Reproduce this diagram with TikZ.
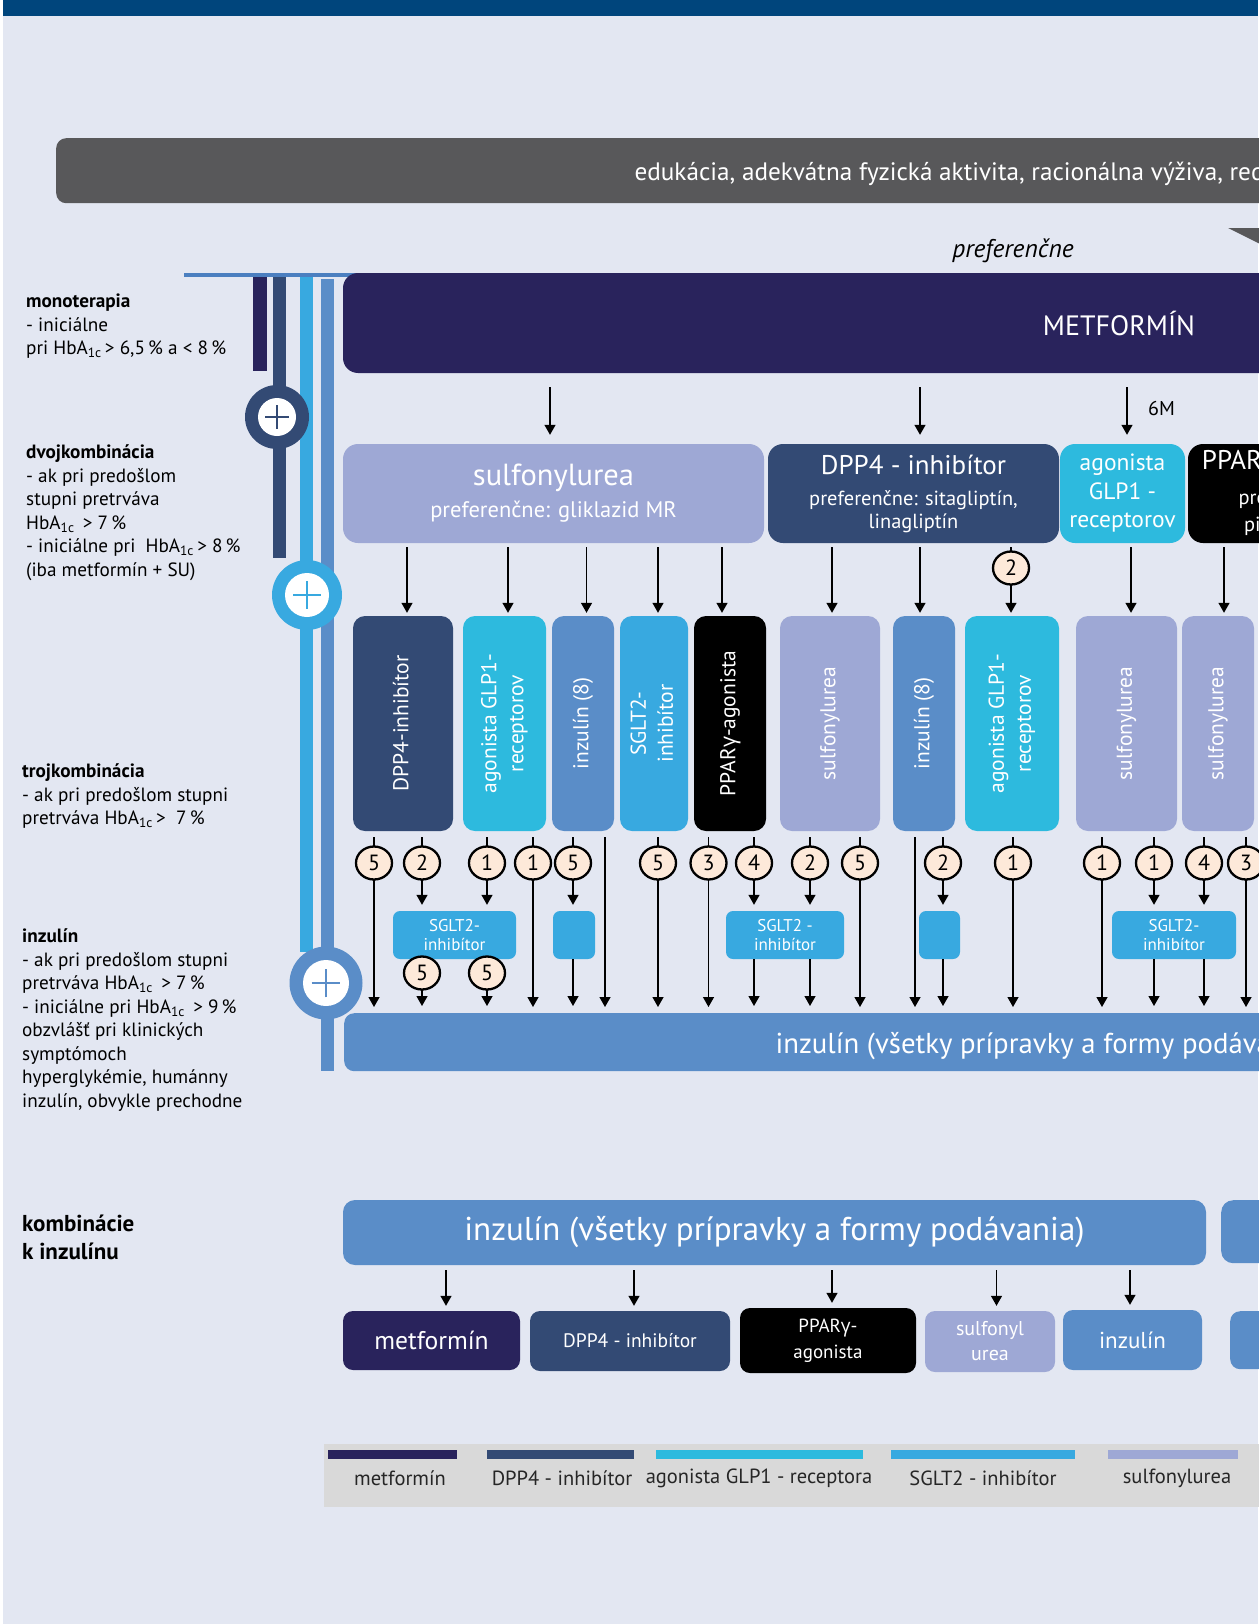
\documentclass[tikz,border=0pt]{standalone}
\usepackage{fontspec}
\setmainfont{PT Sans}
\newfontfamily\grk{Open Sans}
\usetikzlibrary{arrows.meta,shapes.geometric,positioning,calc}
\definecolor{bg}{HTML}{E3E7F2}
\definecolor{topbar}{HTML}{00457C}
\definecolor{edu}{HTML}{58585A}
\definecolor{metf}{HTML}{29235C}
\definecolor{dpp}{HTML}{334A74}
\definecolor{glp}{HTML}{2DBADE}
\definecolor{sglt}{HTML}{38A9E0}
\definecolor{ins}{HTML}{5A8DC8}
\definecolor{hline}{HTML}{4B7FC0}
\definecolor{su}{HTML}{9EA8D5}
\definecolor{peach}{HTML}{FDE9D9}
\definecolor{leg}{HTML}{D9D9D9}
\begin{document}
\begin{tikzpicture}[x=1pt,y=-1pt,
  box/.style={rounded corners=12pt, inner sep=0pt, text=white, align=center},
  arr/.style={-{Triangle[length=10pt,width=11pt]}, line width=1.3pt},
  num/.style={ellipse, draw, line width=2.3pt, fill=peach, minimum width=36pt, minimum height=33pt, inner sep=0pt, font=\fontsize{22}{22}\selectfont},
  lbl/.style={anchor=north west, align=left, inner sep=0pt, font=\fontsize{19.2}{23.5}\selectfont},
  vtext/.style={font=\fontsize{21.5}{27}\selectfont}]
  \useasboundingbox (0,0) rectangle (1258,1624);
  \fill[white] (0,0) rectangle (1258,1624);
  \fill[bg] (3,0) rectangle (1258,1624);
  \fill[topbar] (3,0) rectangle (1258,16);
  \node[box, fill=edu, rounded corners=10pt, minimum width=1300pt, minimum height=65pt, anchor=north west] (edu) at (56,138) {};
  \node[anchor=west, text=white, font=\fontsize{25.2}{25.2}\selectfont] (edut) at (631,174) {edukácia, adekvátna fyzická aktivita, racionálna výživa, redukcia hmotnosti};
  \fill[edu] (1228,228) -- (1300,228) -- (1300,264) -- cycle;
  \node[font=\itshape\fontsize{25.5}{25.5}\selectfont] (pref) at (1013,251) {preferenčne};

  \fill[metf] (253,277) rectangle (267,371);
  \fill[dpp] (273,277) rectangle (286,558);
  \fill[sglt] (300,277) rectangle (313,952);
  \fill[ins] (321,279) rectangle (334,1071);
  \draw[line width=4pt, hline] (184,275) -- (531,275);
  \foreach \n/\x/\y/\c/\r/\s in {c1/277/417/dpp/32/19, c2/307/595/sglt/35/22, c3/326/983/ins/36.5/23}{
    \node[circle, fill=\c, minimum size=\r*2pt, inner sep=0pt] (\n) at (\x,\y) {};
    \node[circle, fill=white, minimum size=\s*2pt, inner sep=0pt] (w\n) at (\n) {};
    \draw[\c, line width=2.5pt] ([xshift=-\s*0.62pt]\n.center) -- ([xshift=\s*0.62pt]\n.center)
      ([yshift=-\s*0.62pt]\n.center) -- ([yshift=\s*0.62pt]\n.center);
  }

  \node[box, fill=metf, rounded corners=15pt, minimum width=1552pt, minimum height=100pt, font=\fontsize{28}{28}\selectfont] (M) at (1119,323) {METFORMÍN};

  \node[box, fill=su, rounded corners=15pt, minimum width=421pt, minimum height=99pt, font=\fontsize{22.5}{32}\selectfont] (S) at (553.5,493.5) {{\fontsize{30.5}{30.5}\selectfont sulfonylurea}\\preferenčne: gliklazid MR};
  \node[box, fill=dpp, rounded corners=15pt, minimum width=291pt, minimum height=99pt, font=\fontsize{20.4}{23}\selectfont] (D) at (913.5,493.5) {{\fontsize{27}{27}\selectfont DPP4 - inhibítor}\\[8pt]preferenčne: sitagliptín,\\linagliptín};
  \node[box, fill=glp, rounded corners=15pt, minimum width=125pt, minimum height=99pt, font=\fontsize{23.5}{28.5}\selectfont] (G) at (1122.5,493.5) {agonista\\GLP1 -\\receptorov};
  \node[box, fill=black, rounded corners=15pt, minimum width=210pt, minimum height=99pt, font=\fontsize{20.4}{27}\selectfont] (P) at (1293,493.5) {{\fontsize{27}{27}\selectfont PPAR{\grk γ}-agonista}\\[8pt]preferenčne:\\pioglitazón};
  \foreach \tg/\x [count=\i] in {S/550, D/920, G/1127}{
    \coordinate (m\i) at (\x,0);
    \draw[arr, shorten <=14pt, shorten >=9pt] (M.south -| m\i) -- (\tg.north -| m\i);
  }
  \node[font=\fontsize{20}{20}\selectfont] (sixm) at (1161.5,408) {6M};

  \foreach \n/\x/\w/\c/\tx in {t1/403/100/dpp/{DPP4-inhibítor}, t2/504.5/83/glp/{agonista GLP1-\\receptorov},
    t3/583/62/ins/{inzulín (8)}, t4/654/68/sglt/{SGLT2-\\inhibítor}, t5/730/72/black/{PPAR{\grk γ}-agonista},
    t6/830/100/su/{sulfonylurea}, t7/924/62/ins/{inzulín (8)}, t8/1012/94/glp/{agonista GLP1-\\receptorov},
    t9/1126.5/101/su/{sulfonylurea}, t10/1218/72/su/{sulfonylurea}}{
    \node[box, vtext, fill=\c, minimum width=\w pt, minimum height=215pt] (\n) at (\x,723.5)
      {\rotatebox{90}{\begin{tabular}{@{}c@{}}\tx\end{tabular}}};
  }
  \foreach \sr/\tg/\x [count=\i] in {S/t1/407, S/t2/508, S/t3/586.5, S/t4/658, S/t5/722,
    D/t6/832, D/t7/920, D/t8/1011, G/t9/1131, P/t10/1224}{
    \coordinate (z\i) at (\x,0);
    \draw[arr, shorten <=4pt, shorten >=3pt] (\sr.south -| z\i) -- (\tg.north -| z\i);
  }
  \node[num] (n0) at (1011,568) {2};

  \node[box, fill=sglt, rounded corners=7pt, minimum width=123pt, minimum height=48pt, font=\fontsize{17}{19}\selectfont] (sg1) at (454.5,935) {SGLT2-\\inhibítor};
  \node[box, fill=sglt, rounded corners=7pt, minimum width=42pt, minimum height=48pt] (e1) at (574,935) {};
  \node[box, fill=sglt, rounded corners=7pt, minimum width=118pt, minimum height=48pt, font=\fontsize{17}{19}\selectfont] (sg2) at (785,935) {SGLT2 -\\inhibítor};
  \node[box, fill=sglt, rounded corners=7pt, minimum width=41pt, minimum height=48pt] (e2) at (939.5,935) {};
  \node[box, fill=sglt, rounded corners=7pt, minimum width=124pt, minimum height=48pt, font=\fontsize{17}{19}\selectfont] (sg3) at (1174,935) {SGLT2-\\inhibítor};

  \node[box, fill=ins, rounded corners=10pt, minimum width=1400pt, minimum height=58pt, anchor=north west] (bar) at (344,1013) {};
  \node[anchor=west, text=white, font=\fontsize{28.8}{28.8}\selectfont] (bart) at (772,1046) {inzulín (všetky prípravky a formy podávania)};

  \foreach \sr/\x/\n/\tg [count=\i] in {t1/374/5/bar, t1/422/2/sg1, t2/487/1/sg1, t2/533/1/bar, t3/573/5/e1,
    t3/605/0/bar, t4/658/5/bar, t5/708.5/3/bar, t5/754/4/sg2, t6/810/2/sg2, t6/860/5/bar, t7/915/0/bar,
    t7/943/2/e2, t8/1013/1/bar, t9/1102/1/bar, t9/1154/1/sg3, t10/1204/4/sg3, t10/1246/3/bar}{
    \coordinate (x\i) at (\x,0);
    \draw[arr, shorten <=6pt, shorten >=6pt] (\sr.south -| x\i) -- (\tg.north -| x\i);
    \ifnum\n>0 \node[num] (n\i) at (\x,863) {\n}; \fi
  }
  \foreach \x/\sr [count=\i] in {422/sg1, 487/sg1, 573/e1, 754/sg2, 810/sg2, 943/e2, 1154/sg3, 1204/sg3}{
    \coordinate (y\i) at (\x,0);
    \draw[arr, shorten >=7pt] (\sr.south -| y\i) -- (bar.north -| y\i);
  }
  \node[num] (f1) at (422,973) {5};
  \node[num] (f2) at (487,973) {5};

  \node[box, fill=ins, minimum width=863pt, minimum height=65pt, font=\fontsize{33}{33}\selectfont] (I) at (774.5,1232.5) {inzulín (všetky prípravky a formy podávania)};
  \node[box, fill=ins, minimum width=200pt, minimum height=63pt, anchor=north west] (I2) at (1221,1200) {};
  \node[box, fill=metf, rounded corners=10pt, minimum width=177pt, minimum height=59pt, font=\fontsize{25.6}{25.6}\selectfont] (m6) at (431.5,1340.5) {metformín};
  \node[box, fill=dpp, rounded corners=10pt, minimum width=200pt, minimum height=60pt, font=\fontsize{19.5}{19.5}\selectfont] (d6) at (630,1341) {DPP4 - inhibítor};
  \node[box, fill=black, rounded corners=10pt, minimum width=176pt, minimum height=65pt, font=\fontsize{19}{26}\selectfont] (p6) at (828,1340.5) {PPAR{\grk γ}-\\agonista};
  \node[box, fill=su, rounded corners=10pt, minimum width=130pt, minimum height=61pt, font=\fontsize{20}{25}\selectfont] (s6) at (990,1341.5) {sulfonyl\\urea};
  \node[box, fill=ins, rounded corners=10pt, minimum width=139pt, minimum height=60pt, font=\fontsize{23}{23}\selectfont] (i6) at (1132.5,1340) {inzulín};
  \node[box, fill=ins, rounded corners=10pt, minimum width=200pt, minimum height=58pt, anchor=north west] (x6) at (1230,1311) {};
  \foreach \tg/\x [count=\i] in {m6/446, d6/634, p6/832, s6/996.5, i6/1130}{
    \coordinate (k\i) at (\x,0);
    \draw[arr, shorten <=5pt, shorten >=5pt] (I.south -| k\i) -- (\tg.north -| k\i);
  }

  \fill[leg] (324,1444) rectangle (1300,1507);
  \foreach \a/\b/\c/\m/\tx [count=\i] in {328/457/metf/400/metformín, 487/634/dpp/562/DPP4 - inhibítor,
    656/863/glp/759/agonista GLP1 - receptora, 891/1075/sglt/983/SGLT2 - inhibítor, 1108/1238/su/1177/sulfonylurea}{
    \fill[\c] (\a,1450) rectangle (\b,1459);
    \node[font=\fontsize{20.5}{20.5}\selectfont, text=black!85] (l\i) at (\m,1478) {\tx};
  }

  \node[lbl] (mono) at (26,291) {\strut\textbf{monoterapia}\\- iniciálne\\pri HbA\textsubscript{1c}\,> 6,5\,\% a < 8\,\%};
  \node[lbl] (dvoj) at (26,442) {\strut\textbf{dvojkombinácia}\\- ak pri predošlom\\stupni pretrváva\\HbA\textsubscript{1c}\ \,> 7\,\%\\- iniciálne pri\ \ HbA\textsubscript{1c}\,> 8\,\%\\(iba metformín + SU)};
  \node[lbl] (troj) at (22,761) {\strut\textbf{trojkombinácia}\\- ak pri predošlom stupni\\pretrváva HbA\textsubscript{1c}\,>\ \ 7\,\%};
  \node[lbl] (inz) at (22,926) {\strut\textbf{inzulín}\\- ak pri predošlom stupni\\pretrváva HbA\textsubscript{1c}\ \,> 7\,\%\\- iniciálne pri HbA\textsubscript{1c}\ \,> 9\,\%\\obzvlášť pri klinických\\symptómoch\\hyperglykémie, humánny\\inzulín, obvykle prechodne};
  \node[lbl, font=\bfseries\fontsize{23}{28}\selectfont] (komb) at (22,1212) {\strut kombinácie\\k inzulínu};
\end{tikzpicture}
\end{document}
